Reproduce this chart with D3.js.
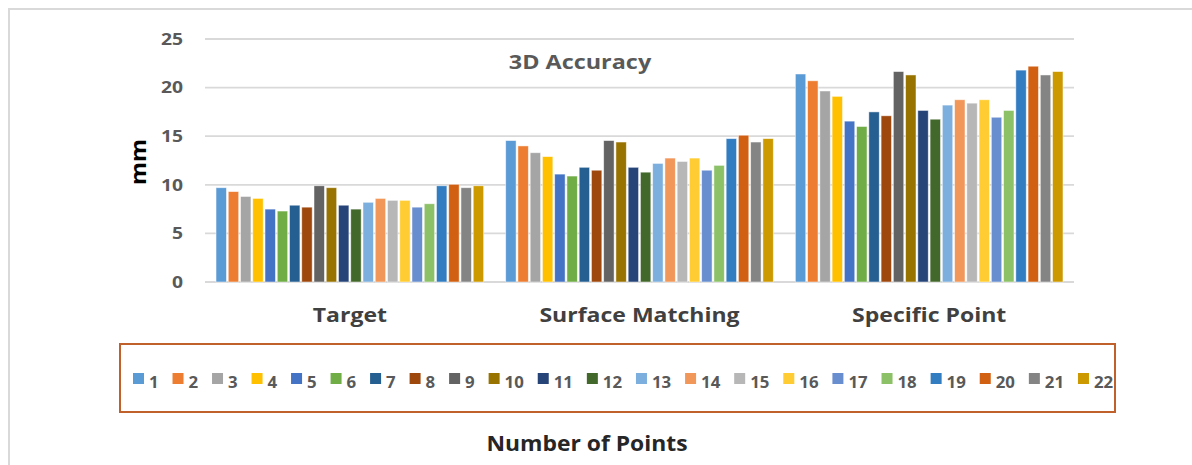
<!DOCTYPE html>
<html>
<head>
<meta charset="utf-8">
<script src="https://cdn.jsdelivr.net/npm/d3@7/dist/d3.min.js"></script>
<style>
  body { margin: 0; background: #fff; }
  text { font-family: "Open Sans", "DejaVu Sans", sans-serif; font-weight: 700; }
</style>
</head>
<body>
<svg id="chart"></svg>
<script>
'use strict';

// chart data
var categories = ['Target', 'Surface Matching', 'Specific Point'];
var seriesNames = ['1', '2', '3', '4', '5', '6', '7', '8', '9', '10', '11',
    '12', '13', '14', '15', '16', '17', '18', '19', '20', '21', '22'];
var targetValues = [9.7, 9.3, 8.8, 8.6, 7.5, 7.3, 7.9, 7.7, 9.9, 9.7, 7.9,
    7.5, 8.2, 8.6, 8.4, 8.4, 7.7, 8.05, 9.9, 10.05, 9.7, 9.9];
var surfaceValues = [14.55, 14.0, 13.3, 12.9, 11.1, 10.9, 11.8, 11.5, 14.55, 14.4, 11.8,
    11.3, 12.2, 12.75, 12.4, 12.75, 11.5, 12.0, 14.75, 15.1, 14.4, 14.75];
var specificValues = [21.4, 20.7, 19.65, 19.1, 16.55, 16.0, 17.5, 17.1, 21.65, 21.3, 17.65,
    16.75, 18.2, 18.75, 18.4, 18.75, 16.95, 17.65, 21.8, 22.2, 21.3, 21.65];
var yTicks = [0, 5, 10, 15, 20, 25];
var colors = ['#5B9BD5', '#ED7D31', '#A5A5A5', '#FFC000', '#4472C4', '#70AD47',
    '#255E91', '#9E480E', '#636363', '#997300', '#264478', '#43682B',
    '#7CAFDD', '#F1975A', '#B7B7B7', '#FFCD33', '#698ED0', '#8CC168',
    '#327DC2', '#D26012', '#848484', '#CC9A00'];

var width = 1192;
var height = 465;
var plot = {left: 205, right: 1074, top: 39, bottom: 282};

var svg = d3.select('#chart')
    .attr('width', width)
    .attr('height', height);

// the reference text is drawn a bit wider than Open Sans
function stretch(selection, factor) {
    selection.each(function () {
        var len = this.getComputedTextLength();
        d3.select(this)
            .attr('textLength', len * factor)
            .attr('lengthAdjust', 'spacingAndGlyphs');
    });
}

// outer chart frame (only left and top edges visible)
svg.append('rect')
    .attr('x', 9)
    .attr('y', 9)
    .attr('width', 1300)
    .attr('height', 600)
    .attr('fill', 'none')
    .attr('stroke', '#d9d9d9')
    .attr('stroke-width', 2);

var valuesByCategory = [targetValues, surfaceValues, specificValues];
var rows = categories.map(function (c, i) {
    return {category: c, values: valuesByCategory[i]};
});

var x0 = d3.scaleBand()
    .domain(categories)
    .range([plot.left, plot.right])
    .padding(0);

var x1 = d3.scaleBand()
    .domain(seriesNames)
    .range([0, x0.bandwidth()])
    .paddingInner(0.15)
    .paddingOuter(0.9);

var y = d3.scaleLinear()
    .domain([0, 25])
    .range([plot.bottom, plot.top]);

var color = d3.scaleOrdinal()
    .domain(seriesNames)
    .range(colors);

// gridlines
svg.append('g')
    .selectAll('line')
    .data(yTicks)
    .enter().append('line')
    .attr('x1', plot.left)
    .attr('x2', plot.right)
    .attr('y1', function (d) { return y(d); })
    .attr('y2', function (d) { return y(d); })
    .attr('stroke', '#d9d9d9')
    .attr('stroke-width', 1.8);

// y axis labels
var yAxis = svg.append('g')
    .attr('transform', 'translate(' + 183 + ',0)')
    .call(d3.axisLeft(y).tickValues(yTicks).tickSize(0).tickPadding(0));
yAxis.select('.domain').remove();
yAxis.selectAll('text')
    .style('font-size', '16.5px')
    .style('font-family', '"Open Sans", sans-serif')
    .style('font-weight', 700)
    .attr('fill', '#595959')
    .call(stretch, 1.17);

// bars
var groups = svg.append('g')
    .selectAll('g')
    .data(rows)
    .enter().append('g')
    .attr('transform', function (d) { return 'translate(' + x0(d.category) + ',0)'; });

groups.selectAll('rect')
    .data(function (d) {
        return d.values.map(function (v, i) { return {key: seriesNames[i], value: v}; });
    })
    .enter().append('rect')
    .attr('x', function (d) { return x1(d.key); })
    .attr('y', function (d) { return y(d.value); })
    .attr('width', x1.bandwidth())
    .attr('height', function (d) { return y(0) - y(d.value); })
    .attr('fill', function (d) { return color(d.key); })
    .attr('stroke', '#ffffff')
    .attr('stroke-opacity', 0.6)
    .attr('stroke-width', 0.8);

// category labels
var xAxis = svg.append('g')
    .attr('transform', 'translate(0,' + plot.bottom + ')')
    .call(d3.axisBottom(x0).tickSize(0).tickPadding(0));
xAxis.select('.domain').remove();
xAxis.selectAll('text')
    .attr('dy', null)
    .attr('y', 40)
    .style('font-size', '19.5px')
    .style('font-family', '"Open Sans", sans-serif')
    .style('font-weight', 700)
    .attr('fill', '#404040')
    .call(stretch, 1.18);

// title
svg.append('text')
    .attr('x', 580)
    .attr('y', 69)
    .attr('text-anchor', 'middle')
    .style('font-size', '19.5px')
    .attr('fill', '#595959')
    .text('3D Accuracy')
    .call(stretch, 1.2);

// y axis title
svg.append('text')
    .attr('transform', 'translate(146,162) rotate(-90)')
    .attr('text-anchor', 'middle')
    .style('font-size', '21px')
    .attr('fill', '#000')
    .text('mm')
    .call(stretch, 1.12);

// legend box
svg.append('rect')
    .attr('x', 120)
    .attr('y', 344)
    .attr('width', 995)
    .attr('height', 68)
    .attr('fill', 'none')
    .attr('stroke', '#C0612B')
    .attr('stroke-width', 2);

var legend = svg.append('g');
var cursor = 133;
seriesNames.forEach(function (name) {
    var item = legend.append('g');
    item.append('rect')
        .attr('x', cursor)
        .attr('y', 373)
        .attr('width', 11)
        .attr('height', 11)
        .attr('fill', color(name));
    var label = item.append('text')
        .attr('x', cursor + 16)
        .attr('y', 388)
        .style('font-size', '16px')
        .attr('fill', '#595959')
        .text(name);
    var len = label.node().getComputedTextLength() * 1.05;
    label.attr('textLength', len).attr('lengthAdjust', 'spacingAndGlyphs');
    cursor += 16 + len + 13.9;
});

// bottom axis title
svg.append('text')
    .attr('x', 587)
    .attr('y', 451)
    .attr('text-anchor', 'middle')
    .attr('textLength', 201)
    .attr('lengthAdjust', 'spacingAndGlyphs')
    .style('font-size', '21px')
    .attr('fill', '#262626')
    .text('Number of Points');
</script>
</body>
</html>
